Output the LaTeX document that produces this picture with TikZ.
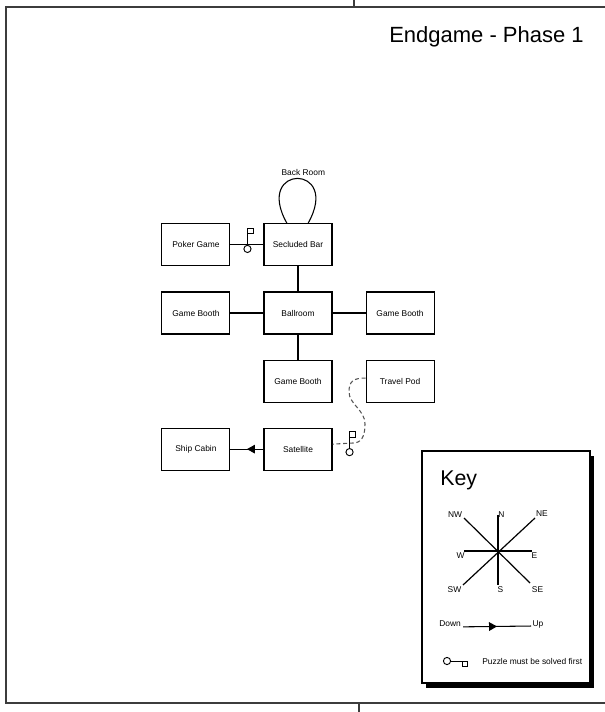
\documentclass[tikz,border=0pt]{standalone}
\usepackage{fontspec}
\setmainfont{Liberation Sans}
\usetikzlibrary{positioning,arrows.meta,decorations.markings,shadows}
\definecolor{FrameGray}{RGB}{60,60,60}
\definecolor{PathGray}{RGB}{85,85,85}
\newcommand{\mapfont}{\fontsize{6.3}{7.5}\selectfont}
\tikzset{
  frame/.style={draw=FrameGray,line width=1.4pt},
  room/.style={draw,line width=0.8pt,minimum width=51pt,minimum height=31.5pt,
    inner sep=0pt,align=center,font=\mapfont},
  link/.style={line width=0.8pt},
  secret/.style={line width=0.8pt,draw=PathGray,dash pattern=on 3pt off 2pt},
  updown/.style={line width=0.8pt,postaction={decorate},
    decoration={markings,mark=at position 0.5 with {\arrow{Triangle[length=6pt,width=6.5pt]}}}},
  keybox/.style={draw,line width=0.8pt,fill=white,minimum width=126pt,minimum height=174pt,
    drop shadow={shadow xshift=3pt,shadow yshift=-3.75pt,opacity=1,fill=black}},
  keytext/.style={font=\mapfont,inner sep=0pt},
  compass/.style={line width=0.9pt},
  puzzle/.pic={
    \draw[line width=0.7pt] (0,0) circle (2.7pt);
    \draw[line width=0.7pt] (0,-3.6) -- (0,-15) rectangle (5.5,-20.5);
  }
}

\begin{document}
\begin{tikzpicture}[x=0.75pt,y=-0.75pt,node distance=18.75pt and 24.75pt]
  \useasboundingbox (0,0) rectangle (605,712);
  % page frame
  \draw[frame] (605,7) -- (6,7) -- (6,703) -- (605,703);
  \draw[frame,line width=0.8pt] (354,0) -- (354,7);
  \draw[frame,line width=0.8pt] (359,703) -- (359,712);
  \node[anchor=base east,inner sep=0pt,font=\fontsize{16.5}{18}\selectfont] (title) at (584,43) {Endgame - Phase 1};

  % rooms
  \node[room] (ballroom) at (298,313) {Ballroom};
  \node[room,above=of ballroom] (bar) {Secluded Bar};
  \node[room,left=of bar] (poker) {Poker Game};
  \node[room,left=of ballroom] (boothw) {Game Booth};
  \node[room,right=of ballroom] (boothe) {Game Booth};
  \node[room,below=of ballroom] (booths) {Game Booth};
  \node[room,right=of booths] (pod) {Travel Pod};
  \node[room,below=of booths] (satellite) {Satellite};
  \node[room,left=of satellite] (cabin) {Ship Cabin};
  \node[keytext,above=36pt of bar,xshift=4pt] (backroom) {Back Room};

  % connections
  \draw[link] (poker) -- (bar);
  \draw[link] (bar) -- (ballroom);
  \draw[link] (boothw) -- (ballroom);
  \draw[link] (ballroom) -- (boothe);
  \draw[link] (ballroom) -- (booths);
  \draw[updown] (satellite) -- (cabin);
  \draw[link] ([xshift=-8.25pt]bar.north) .. controls +(-34,-60) and +(34,-60) .. ([xshift=7.5pt]bar.north);
  \coordinate (s1) at (349,392);
  \coordinate (s2) at (365,424);
  \coordinate (s3) at (353,443);
  \draw[secret] ([yshift=2.25pt]pod.west) .. controls +(-12,0) and +(0,-11) .. (s1)
    .. controls +(0,12) and +(0,-14) .. (s2)
    .. controls +(0,13) and +(8,0) .. (s3) -- ([yshift=3.75pt]satellite.east);
  \pic at ([shift={(17,4)}]poker.east) {puzzle};
  \pic at ([shift={(17,3)}]satellite.east) {puzzle};

  % key
  \node[keybox] (key) at (506,567) {};
  \node[anchor=base west,inner sep=0pt,font=\fontsize{16}{18}\selectfont] (keytitle) at (440,485) {Key};
  \coordinate (hub) at (498,551);
  \draw[compass] (hub) +(0,-36) -- +(0,34);
  \draw[compass] (hub) +(-34,0) -- +(34,0);
  \draw[compass] (hub) +(-34,-33) -- +(32,32);
  \draw[compass] (hub) +(37,-33) -- +(-35,34);
  \fill (hub) circle (1pt);
  \node[keytext] (nw) at (455,515) {NW};
  \node[keytext] (n) at (501.5,515) {N};
  \node[keytext] (ne) at (542,514) {NE};
  \node[keytext] (w) at (460.5,556) {W};
  \node[keytext] (e) at (534.5,556) {E};
  \node[keytext] (sw) at (454.5,590) {SW};
  \node[keytext] (s) at (500.5,590) {S};
  \node[keytext] (se) at (537.5,590) {SE};
  \node[keytext] (down) at (450,624) {Down};
  \node[keytext] (up) at (538,624) {Up};
  \draw[updown] ([xshift=1.5pt]down.base east) -- ([xshift=-1pt]up.base west);
  \pic[rotate=-90] at (447,661) {puzzle};
  \node[keytext,anchor=west] (solved) at (482,661) {Puzzle must be solved first};
\end{tikzpicture}
\end{document}
